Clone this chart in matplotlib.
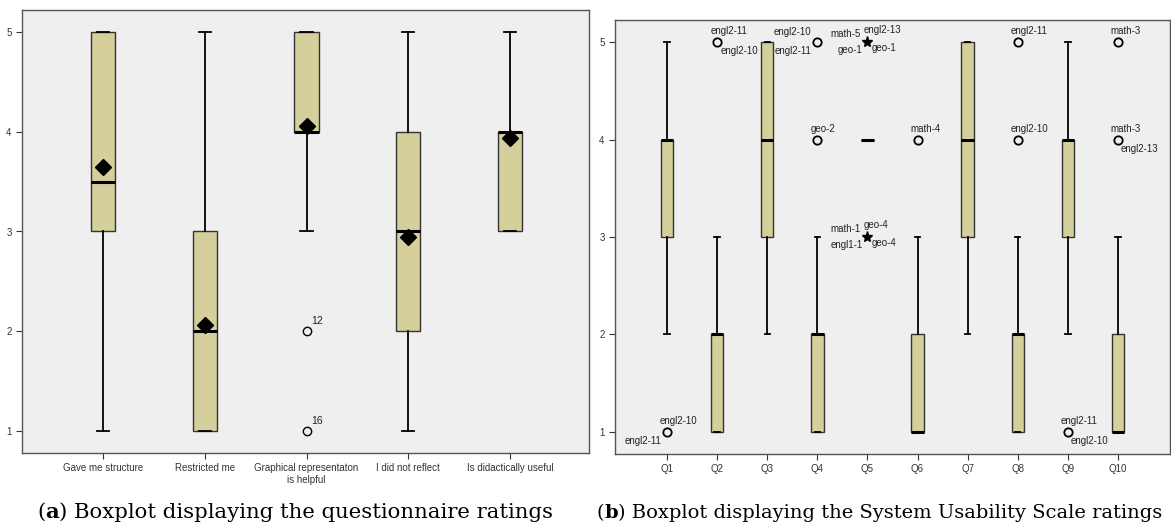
import matplotlib
matplotlib.use("Agg")
import matplotlib.pyplot as plt

# ---------------- data: panel (a) questionnaire ----------------
q_labels = ["Gave me structure", "Restricted me", "Graphical representaton\nis helpful",
            "I did not reflect", "Is didactically useful"]
q_whislo = [1, 1, 3, 1, 3]
q_q1 = [3, 1, 4, 2, 3]
q_med = [3.5, 2, 4, 3, 4]
q_q3 = [5, 3, 5, 4, 4]
q_whishi = [5, 5, 5, 5, 5]
q_mean = [3.65, 2.06, 4.06, 2.94, 3.94]
q_outliers = [[], [], [2, 1], [], []]
q_outlier_ids = [[], [], ["12", "16"], [], []]

# ---------------- data: panel (b) SUS ----------------
sus_labels = ["Q1", "Q2", "Q3", "Q4", "Q5", "Q6", "Q7", "Q8", "Q9", "Q10"]
sus_whislo = [2, 1, 2, 1, 4, 1, 2, 1, 2, 1]
sus_q1 = [3, 1, 3, 1, 4, 1, 3, 1, 3, 1]
sus_med = [4, 2, 4, 2, 4, 1, 4, 2, 4, 1]
sus_q3 = [4, 2, 5, 2, 4, 2, 5, 2, 4, 2]
sus_whishi = [5, 3, 5, 3, 4, 3, 5, 3, 5, 3]
sus_outliers = [[1], [5], [], [5, 4], [], [4], [], [5, 4], [1], [5, 4]]
sus_extremes = [[], [], [], [], [5, 3], [], [], [], [], []]
# labels: (question index, value, [(text, slot), ...])
sus_point_labels = [
    (0, 1, [("engl2-10", "ur"), ("engl2-11", "ll")]),
    (1, 5, [("engl2-11", "ur"), ("engl2-10", "lr")]),
    (3, 5, [("engl2-10", "ul"), ("engl2-11", "ll")]),
    (3, 4, [("geo-2", "ur")]),
    (4, 5, [("math-5", "s_ul"), ("engl2-13", "s_ur"), ("geo-1", "s_ll"), ("geo-1", "s_lr")]),
    (4, 3, [("math-1", "s_ul"), ("geo-4", "s_ur"), ("engl1-1", "s_ll"), ("geo-4", "s_lr")]),
    (5, 4, [("math-4", "ur")]),
    (7, 5, [("engl2-11", "ur")]),
    (7, 4, [("engl2-10", "ur")]),
    (8, 1, [("engl2-11", "ur"), ("engl2-10", "lr")]),
    (9, 5, [("math-3", "ur")]),
    (9, 4, [("math-3", "ur"), ("engl2-13", "lr")]),
]

captions = [("a", ") Boxplot displaying the questionnaire ratings"),
            ("b", ") Boxplot displaying the System Usability Scale ratings")]

# ---------------- style ----------------
BOX = "#D4CF9B"
BG = "#EFEFEF"
EDGE = "#333333"
SLOTS = {  # (dx px, dy px, ha)
    "ur": (-7, 11, "left"), "lr": (3, -9, "left"),
    "ll": (-6, -9, "right"), "ul": (-6, 10, "right"),
    "s_ul": (-7, 8, "right"), "s_ur": (-4, 12, "left"),
    "s_ll": (-5, -8, "right"), "s_lr": (4, -6, "left"),
}
SANS = ["Liberation Sans", "DejaVu Sans"]
SERIF = ["DejaVu Serif"]

W, H = 1171, 526
fig = plt.figure(figsize=(W / 100, H / 100), dpi=100)
fig.patch.set_facecolor("white")


def style_axes(ax):
    ax.set_facecolor(BG)
    for s in ax.spines.values():
        s.set_color("#555555")
        s.set_linewidth(1.0)
    ax.tick_params(axis="both", direction="out", length=4, width=0.8,
                   colors="#333333", labelsize=7)
    for lab in ax.get_xticklabels() + ax.get_yticklabels():
        lab.set_family(SANS)
    ax.set_yticks([1, 2, 3, 4, 5])


BOXKW = dict(patch_artist=True, showfliers=False,
             boxprops=dict(facecolor=BOX, edgecolor=EDGE, linewidth=1.0),
             medianprops=dict(color="black", linewidth=2.2, solid_capstyle="butt"),
             whiskerprops=dict(color="black", linewidth=1.3),
             capprops=dict(color="black", linewidth=1.3))

# ---------------- panel (a) ----------------
ax1 = fig.add_axes([22 / W, 1 - 453 / H, (589 - 22) / W, (453 - 10) / H])
stats1 = [dict(whislo=q_whislo[i], q1=q_q1[i], med=q_med[i], q3=q_q3[i],
               whishi=q_whishi[i], fliers=[]) for i in range(len(q_labels))]
pos1 = list(range(len(q_labels)))
ax1.bxp(stats1, positions=pos1, widths=0.24, capwidths=0.12, **BOXKW)
ax1.plot(pos1, q_mean, linestyle="none", marker="D", color="black", markersize=8, zorder=5)
for i, (vals, ids) in enumerate(zip(q_outliers, q_outlier_ids)):
    for v, t in zip(vals, ids):
        ax1.plot(i, v, marker="o", mfc="none", mec="black", mew=1.0, markersize=6, linestyle="none")
        ax1.annotate(t, (i, v), xytext=(5, 10), textcoords="offset pixels",
                     ha="left", va="center", fontsize=7.5, family=SANS, color="#222222")
ax1.set_xlim(-0.796, 4.776)
ax1.set_ylim(0.776, 5.224)
ax1.set_xticks(pos1)
ax1.set_xticklabels(q_labels)
style_axes(ax1)

# ---------------- panel (b) ----------------
ax2 = fig.add_axes([615 / W, 1 - 454 / H, (1170 - 615) / W, (454 - 20) / H])
stats2 = [dict(whislo=sus_whislo[i], q1=sus_q1[i], med=sus_med[i], q3=sus_q3[i],
               whishi=sus_whishi[i], fliers=[]) for i in range(len(sus_labels))]
pos2 = list(range(len(sus_labels)))
ax2.bxp(stats2, positions=pos2, widths=0.245, capwidths=0.11, **BOXKW)
for i, vals in enumerate(sus_outliers):
    for v in vals:
        ax2.plot(i, v, marker="o", mfc="none", mec="black", mew=1.3, markersize=6, linestyle="none")
for i, vals in enumerate(sus_extremes):
    for v in vals:
        ax2.plot(i, v, marker="*", color="black", markersize=8, linestyle="none")
for qi, v, labs in sus_point_labels:
    for t, slot in labs:
        dx, dy, ha = SLOTS[slot]
        ax2.annotate(t, (qi, v), xytext=(dx, dy), textcoords="offset pixels",
                     ha=ha, va="center", fontsize=7, family=SANS, color="#222222")
ax2.set_xlim(-1.04, 10.04)
ax2.set_ylim(0.774, 5.226)
ax2.set_xticks(pos2)
ax2.set_xticklabels(sus_labels)
style_axes(ax2)

# ---------------- captions ----------------
cap_x = [37, 597]
cap_w = [520, 568]
base_y = 1 - 518 / H
fig.canvas.draw()
r = fig.canvas.get_renderer()


def put_caption(letter, rest, x, fs):
    t1 = fig.text(x / W, base_y, "(", fontsize=fs, family=SERIF, va="baseline", ha="left")
    bb = t1.get_window_extent(r)
    t2 = fig.text(bb.x1 / W, base_y, letter, fontsize=fs, family=SERIF,
                  weight="bold", va="baseline", ha="left")
    bb2 = t2.get_window_extent(r)
    t3 = fig.text(bb2.x1 / W, base_y, rest, fontsize=fs, family=SERIF,
                  va="baseline", ha="left")
    return [t1, t2, t3], t3.get_window_extent(r).x1 - x


for (letter, rest), x, wt in zip(captions, cap_x, cap_w):
    parts, width = put_caption(letter, rest, x, 15.0)
    for p in parts:
        p.remove()
    put_caption(letter, rest, x, 15.0 * wt / width)

fig.savefig("out.png", dpi=100, facecolor="white")
